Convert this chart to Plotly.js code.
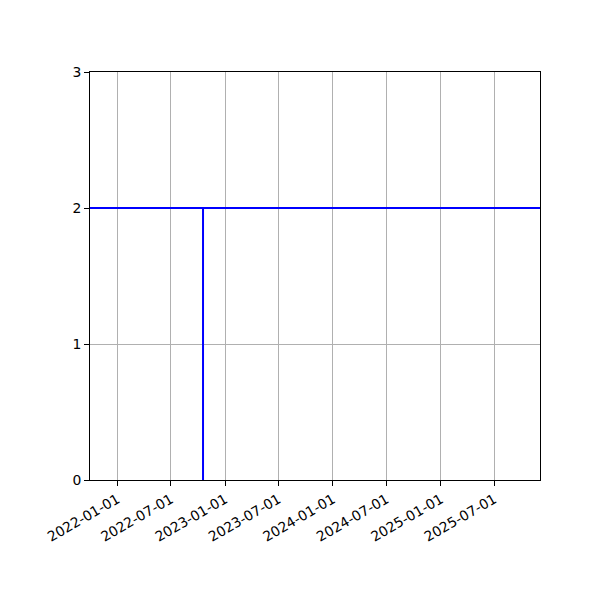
<!DOCTYPE html>
<html>
<head>
<meta charset="utf-8">
<script src="https://cdn.plot.ly/plotly-3.0.1.min.js"></script>
<style>body{margin:0;background:#fff}#chart{width:600px;height:600px}</style>
</head>
<body>
<div id="chart"></div>
<script>
// Data
const hLineDates = ['2021-09-30', '2025-12-03'];
const hLineValues = [2, 2];
const vLineDates = ['2022-10-18', '2022-10-18'];
const vLineValues = [0, 2];
const xRange = ['2021-09-30', '2025-12-03'];
const yTicks = [0, 1, 2, 3];
const xTickDates = ['2022-01-01', '2022-07-01', '2023-01-01', '2023-07-01', '2024-01-01', '2024-07-01', '2025-01-01', '2025-07-01'];

const lineStyle = {color: '#0000ff', width: 2};
const traces = [
  {x: hLineDates, y: hLineValues, mode: 'lines', line: lineStyle, hoverinfo: 'skip'},
  {x: vLineDates, y: vLineValues, mode: 'lines', line: lineStyle, hoverinfo: 'skip'}
];

const axisCommon = {
  showline: true, mirror: true, linecolor: '#000', linewidth: 1,
  ticks: 'outside', ticklen: 5, tickwidth: 1, tickcolor: '#000',
  showgrid: true, gridcolor: '#b0b0b0', gridwidth: 1,
  zeroline: false,
  tickfont: {family: 'DejaVu Sans', size: 13.9, color: '#000'}
};

const layout = {
  width: 600, height: 600,
  margin: {l: 90, r: 60, t: 72, b: 120},
  paper_bgcolor: '#fff', plot_bgcolor: '#fff',
  showlegend: false,
  xaxis: Object.assign({}, axisCommon, {
    type: 'date', range: xRange,
    tickvals: xTickDates, ticktext: xTickDates,
    tickangle: -30
  }),
  yaxis: Object.assign({}, axisCommon, {
    range: [0, 3], tickvals: yTicks, ticktext: yTicks.map(String)
  })
};

Plotly.newPlot('chart', traces, layout, {displayModeBar: false, staticPlot: true});
</script>
</body>
</html>
